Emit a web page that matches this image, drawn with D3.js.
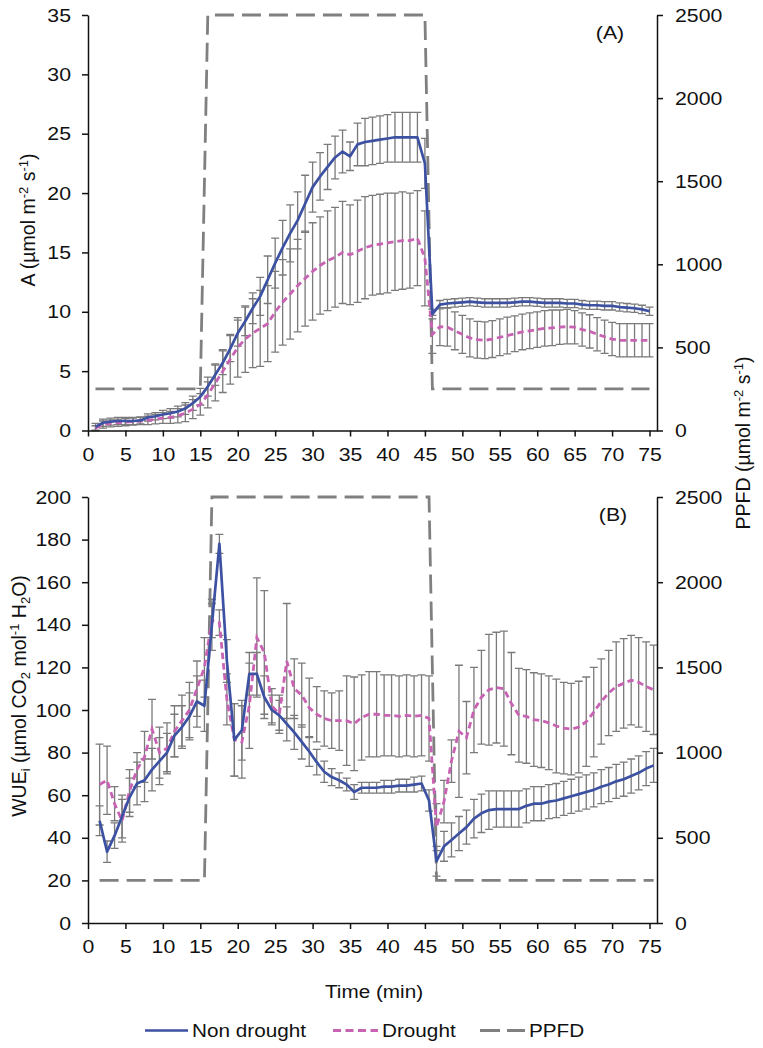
<!DOCTYPE html>
<html>
<head>
<meta charset="utf-8">
<script src="https://cdn.jsdelivr.net/npm/d3@7"></script>
<style>
  body { margin: 0; background: #fff; }
  text { font-family: "Liberation Sans", Arial, Helvetica, sans-serif; fill: #111; }
</style>
</head>
<body>
<svg id="chart" width="763" height="1048"></svg>
<script>
// ---------------- DATA ----------------
const time = [
  1,2,3,4,5,6,7,8,9,10,11,12,13,14,15,
  16,17,18,19,20,21,22,23,24,25,26,27,28,29,30,
  31,32,33,34,35,36,37,38,39,40,41,42,43,44,45,
  46,47,48,49,50,51,52,53,54,55,56,57,58,59,60,
  61,62,63,64,65,66,67,68,69,70,71,72,73,74,75
];

const xTicks = [0,5,10,15,20,25,30,35,40,45,50,55,60,65,70,75];
const aTicks = [0,5,10,15,20,25,30,35];
const wueTicks = [0,20,40,60,80,100,120,140,160,180,200];
const ppfdTicks = [0,500,1000,1500,2000,2500];

// PPFD (µmol m-2 s-1)
const ppfd = [
  250,250,250,250,250,250,250,250,250,250,250,250,250,250,250,
  2500,2500,2500,2500,2500,2500,2500,2500,2500,2500,2500,2500,2500,2500,2500,
  2500,2500,2500,2500,2500,2500,2500,2500,2500,2500,2500,2500,2500,2500,2500,
  250,250,250,250,250,250,250,250,250,250,250,250,250,250,250,
  250,250,250,250,250,250,250,250,250,250,250,250,250,250,250
];

// Panel A: net assimilation
const aNonDrought = [
  0.3,0.65,0.75,0.8,0.8,0.8,0.85,1.1,1.2,1.35,1.45,1.6,1.85,2.3,2.85,
  3.7,4.7,5.7,6.9,8.2,9.2,10.3,11.3,12.7,14.1,15.4,16.6,17.7,19.1,20.5,
  21.4,22.2,23.0,23.5,23.1,24.1,24.3,24.4,24.5,24.6,24.7,24.7,24.7,24.7,22.5,
  9.8,10.6,10.7,10.75,10.8,10.85,10.8,10.75,10.75,10.75,10.75,10.8,10.85,10.85,10.8,
  10.75,10.75,10.75,10.7,10.7,10.6,10.55,10.55,10.5,10.5,10.4,10.35,10.3,10.2,10.05
];
const aNonDroughtSE = [
  0.3,0.3,0.3,0.3,0.3,0.3,0.3,0.3,0.3,0.35,0.4,0.45,0.5,0.6,0.7,
  0.8,0.9,1.0,1.1,1.1,1.2,1.3,1.6,2.0,2.1,2.3,2.4,2.4,2.4,2.1,
  2.0,1.9,1.8,1.8,1.2,1.8,2.0,2.0,2.0,2.0,2.1,2.1,2.1,2.1,2.1,
  0.4,0.35,0.35,0.35,0.35,0.35,0.35,0.35,0.35,0.35,0.35,0.35,0.35,0.35,0.35,
  0.35,0.35,0.35,0.35,0.35,0.35,0.35,0.35,0.35,0.35,0.35,0.35,0.35,0.35,0.35
];
const aDrought = [
  0.2,0.5,0.6,0.65,0.7,0.75,0.8,0.85,0.95,1.05,1.1,1.25,1.45,1.8,2.2,
  3.0,4.0,5.0,6.0,7.0,7.7,8.2,8.6,9.0,10.0,10.8,11.5,12.2,12.8,13.4,
  13.9,14.3,14.6,15.0,14.8,15.1,15.4,15.6,15.7,15.8,15.9,16.0,16.0,16.2,14.5,
  8.1,8.75,8.7,8.4,8.1,7.8,7.65,7.6,7.7,7.85,8.0,8.15,8.3,8.4,8.5,
  8.6,8.65,8.7,8.75,8.7,8.5,8.35,8.1,7.9,7.7,7.6,7.6,7.6,7.6,7.6
];
const aDroughtSE = [
  0.2,0.3,0.3,0.3,0.3,0.3,0.3,0.35,0.4,0.45,0.5,0.6,0.7,0.8,0.9,
  1.1,1.5,1.8,2.1,2.5,2.8,2.9,3.2,3.2,3.4,3.6,3.8,3.9,4.0,4.1,
  4.1,4.2,4.2,4.3,4.2,4.3,4.3,4.2,4.2,4.2,4.1,4.1,4.0,4.0,4.0,
  1.6,1.6,1.6,1.6,1.6,1.6,1.55,1.55,1.55,1.55,1.55,1.5,1.5,1.5,1.5,
  1.5,1.5,1.45,1.45,1.4,1.4,1.4,1.4,1.4,1.4,1.4,1.4,1.4,1.4,1.4
];

// Panel B: intrinsic water use efficiency
const wNonDrought = [
  48,33.5,41,50,59,65.5,67,72,76,80,88,92,97,104,102,
  140,178,123,86,90.5,117,117,106,100,97.5,93.5,89.5,85,80.5,75.5,
  71,68.5,67,65,61.5,63.5,63.5,63.5,64,64,64.5,64.5,65,65.5,57.5,
  29,36,39,42,45,49,51.5,53,53.5,53.5,53.5,53.5,55,56,56,
  57,57.5,58.5,59.5,60.5,61.5,62.5,64,65,66.5,67.5,69,70.5,72.5,74
];
const wNonDroughtSE = [
  7,5,6,10,9,10,10,10,11,9,10,10,11,12,12,
  12,4.5,10,17,14,10,10,10,7,7,8,8,8,7,6,
  5,4,3.5,3,3.5,2.5,2.5,2.5,3,3,3,3,3.5,3.5,5,
  7,7,8,8,8,9,9,9,8.5,8.5,8.5,8.5,8,8,8,
  8,8,8,8,8,8,8,8,8,8,8,8,8,8,8
];
const wDrought = [
  65,67,56,48,62,72,78,91,80,82,90,95,100,110,120,
  142,141,105,86,85,102,134,127,102,98,123,110,107,101,98,
  96,95,95,95,93.5,96.5,98,98,97.5,97.5,97,97.5,97,97.5,96,
  45,57,76,90,87,100,106,109.5,110.5,110,103,97.5,97,95.5,95,
  94,92.5,91.5,91,92,94.5,99,104,108,111,112.5,114,113,111,109.5
];
const wDroughtSE = [
  19,16,8,10,10,8,12,14,12,12,12,12,13,13,14,
  8,6,12,17,17,20,28,29,8,9,27,14,15,14,13,
  13,13,14,21,22,20,20,20,19,19,19,19,19,19,20,
  11,10,10,31,17,20,22,26,26,27,24,22,22,22,22,
  22,22,21.5,21.5,21.5,21,21,20,20,21,21,21,21,21,21
];

// ---------------- CHART ----------------
const COL_ND = "#3d51a2";
const COL_DR = "#c862b3";
const COL_PPFD = "#808080";
const COL_ERR = "#7a7a7a";
const TXT_SCALE = 1.12;

const svg = d3.select("#chart");
const x = d3.scaleLinear().domain([0, 76]).range([88, 657]);

const panels = [
  {
    yL: d3.scaleLinear().domain([0, 35]).range([430.5, 15]),
    yR: d3.scaleLinear().domain([0, 2500]).range([430.5, 15]),
    ticksL: aTicks, nd: aNonDrought, ndSE: aNonDroughtSE, dr: aDrought, drSE: aDroughtSE,
    shift: 0, tag: "(A)", tagX: 610
  },
  {
    yL: d3.scaleLinear().domain([0, 200]).range([923, 497]),
    yR: d3.scaleLinear().domain([0, 2500]).range([923, 497]),
    ticksL: wueTicks, nd: wNonDrought, ndSE: wNonDroughtSE, dr: wDrought, drSE: wDroughtSE,
    shift: 0.55, tag: "(B)", tagX: 613
  }
];

function styleAxis(g) {
  g.attr("font-size", null).attr("font-family", null);
  g.select(".domain").attr("stroke", "#111").attr("stroke-width", 1.5);
  g.selectAll(".tick line").attr("stroke", "#111").attr("stroke-width", 1.5);
  g.selectAll(".tick text").style("font-size", "19px").attr("fill", "#111");
}

panels.forEach(p => {
  const g = svg.append("g");
  const xs = t => x(t + p.shift);

  // error bars
  [[p.nd, p.ndSE], [p.dr, p.drSE]].forEach(([vals, se]) => {
    g.append("g")
      .attr("stroke", COL_ERR).attr("stroke-width", 1.3).attr("fill", "none")
      .selectAll("path")
      .data(time.map((t, i) => ({ t, v: vals[i], e: se[i] })))
      .join("path")
      .attr("d", d => {
        const cx = xs(d.t), yt = p.yL(d.v + d.e), yb = p.yL(Math.max(0, d.v - d.e));
        return `M${cx - 4},${yt}H${cx + 4}M${cx},${yt}V${yb}M${cx - 4},${yb}H${cx + 4}`;
      });
  });

  // PPFD
  g.append("path")
    .datum(time.map((t, i) => ({ t, v: ppfd[i] })))
    .attr("fill", "none").attr("stroke", COL_PPFD).attr("stroke-width", 2.8)
    .attr("stroke-dasharray", "19,8")
    .attr("d", d3.line().x(d => xs(d.t)).y(d => p.yR(d.v)));

  // Drought
  g.append("path")
    .datum(time.map((t, i) => ({ t, v: p.dr[i] })))
    .attr("fill", "none").attr("stroke", COL_DR).attr("stroke-width", 2.8)
    .attr("stroke-dasharray", "6.5,4")
    .attr("d", d3.line().x(d => xs(d.t)).y(d => p.yL(d.v)));

  // Non drought
  g.append("path")
    .datum(time.map((t, i) => ({ t, v: p.nd[i] })))
    .attr("fill", "none").attr("stroke", COL_ND).attr("stroke-width", 2.7)
    .attr("stroke-linejoin", "round")
    .attr("d", d3.line().x(d => xs(d.t)).y(d => p.yL(d.v)));

  // axes
  const y0 = p.yL.range()[0];
  svg.append("g").attr("transform", `translate(0,${y0})`)
    .call(d3.axisBottom(x).tickValues(xTicks).tickSize(6).tickSizeOuter(0).tickFormat(d3.format("d")))
    .call(styleAxis)
    .call(a => a.selectAll(".tick text").attr("y", null)
      .attr("transform", `translate(0,17) scale(${TXT_SCALE},1)`));

  svg.append("g").attr("transform", `translate(88,0)`)
    .call(d3.axisLeft(p.yL).tickValues(p.ticksL).tickSize(6).tickSizeOuter(0).tickFormat(d3.format("d")))
    .call(styleAxis)
    .call(a => a.selectAll(".tick text").attr("x", null)
      .attr("transform", `translate(-17,0) scale(${TXT_SCALE},1)`));

  svg.append("g").attr("transform", `translate(657,0)`)
    .call(d3.axisRight(p.yR).tickValues(ppfdTicks).tickSize(6).tickSizeOuter(0).tickFormat(d3.format("d")))
    .call(styleAxis)
    .call(a => a.selectAll(".tick text").attr("x", null)
      .attr("transform", `translate(18,0) scale(${TXT_SCALE},1)`));

  // panel tag
  svg.append("text")
    .attr("transform", `translate(${p.tagX},${p.yL.range()[1] + 24}) scale(${TXT_SCALE},1)`)
    .attr("text-anchor", "middle").style("font-size", "19px").text(p.tag);
});

// axis titles
function richText(sel, parts) {
  parts.forEach(([txt, kind]) => {
    const ts = sel.append("tspan").text(txt);
    if (kind === "sup") ts.style("font-size", "13px").attr("dy", -7);
    if (kind === "sub") ts.style("font-size", "13px").attr("dy", 4);
    if (kind === "back-sup") ts.attr("dy", 7);
    if (kind === "back-sub") ts.attr("dy", -4);
  });
}

const tA = svg.append("text").attr("transform", "translate(35,220) rotate(-90)")
  .attr("text-anchor", "middle").style("font-size", "19.5px");
richText(tA, [["A (µmol m"], ["-2", "sup"], [" s", "back-sup"], ["-1", "sup"], [")", "back-sup"]]);

const tB = svg.append("text").attr("transform", "translate(26,696) rotate(-90)")
  .attr("text-anchor", "middle").style("font-size", "19.5px");
richText(tB, [["WUE"], ["i", "sub"], [" (µmol CO", "back-sub"], ["2", "sub"], [" mol", "back-sub"],
  ["-1", "sup"], [" H", "back-sup"], ["2", "sub"], ["O)", "back-sub"]]);

const tR = svg.append("text").attr("transform", "translate(750,443) rotate(-90)")
  .attr("text-anchor", "middle").style("font-size", "19.5px");
richText(tR, [["PPFD (µmol m"], ["-2", "sup"], [" s", "back-sup"], ["-1", "sup"], [")", "back-sup"]]);

svg.append("text").attr("transform", `translate(374,998) scale(${TXT_SCALE},1)`)
  .attr("text-anchor", "middle").style("font-size", "18.5px").text("Time (min)");

// legend
const legendItems = [
  { label: "Non drought", color: COL_ND, dash: null, x0: 145, len: 43 },
  { label: "Drought", color: COL_DR, dash: "8,4.5", x0: 333, len: 45 },
  { label: "PPFD", color: COL_PPFD, dash: "20,7", x0: 480, len: 45 }
];
const legY = 1030.5;
const lg = svg.append("g");
legendItems.forEach(it => {
  lg.append("line").attr("x1", it.x0).attr("x2", it.x0 + it.len)
    .attr("y1", legY).attr("y2", legY)
    .attr("stroke", it.color).attr("stroke-width", it.dash ? 2.8 : 2.6)
    .attr("stroke-dasharray", it.dash);
  lg.append("text")
    .attr("transform", `translate(${it.x0 + it.len + 4},${legY + 6.5}) scale(${TXT_SCALE},1)`)
    .style("font-size", "18.5px").text(it.label);
});
</script>
</body>
</html>
